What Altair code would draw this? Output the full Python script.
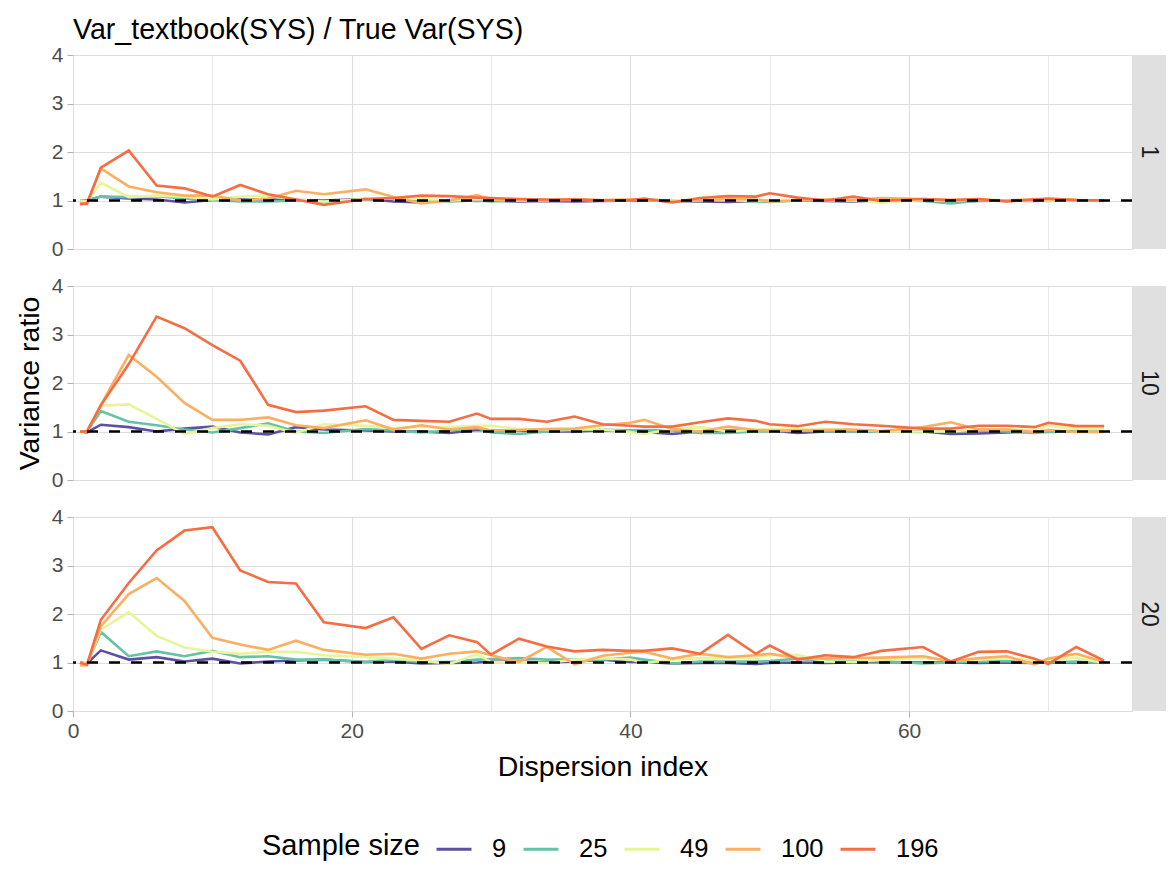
import altair as alt
import pandas as pd

FONT = "Liberation Sans"

X = [0.5, 1, 2, 4, 6, 8, 10, 12, 14, 16, 18, 21, 23, 25, 27, 29, 30, 32, 34, 36,
     38, 40, 41, 43, 45, 47, 49, 50, 52, 54, 56, 58, 61, 63, 65, 67, 69, 70, 72, 74]

SIZES = ["9", "25", "49", "100", "196"]
COLORS = ["#5E4FA2", "#66C2A5", "#E6F598", "#FDAE61", "#F46D43"]
FACETS = ["1", "10", "20"]

# facet "1"
F1_9 = [1.00, 1.00, 1.08, 1.04, 1.02, 0.96, 1.01, 1.02, 1.02, 1.01, 1.00, 1.03, 0.98, 0.96, 1.01, 0.99, 1.00,
        0.98, 0.99, 0.98, 0.99, 1.00, 1.00, 0.99, 0.98, 0.97, 0.99, 1.00, 1.00, 0.99, 0.98, 1.00,
        1.00, 0.98, 0.99, 1.00, 0.99, 1.00, 1.00, 1.00]
F1_25 = [1.00, 1.00, 1.08, 1.07, 1.09, 1.04, 1.01, 0.98, 0.98, 1.00, 0.98, 1.02, 1.04, 1.00, 0.98, 1.00, 0.98,
         1.00, 1.00, 1.01, 1.00, 1.00, 1.02, 1.00, 0.99, 1.00, 0.98, 0.97, 1.00, 1.00, 0.99, 1.00,
         0.99, 0.94, 1.00, 0.99, 1.00, 0.99, 1.00, 0.99]
F1_49 = [1.00, 0.98, 1.37, 1.07, 1.10, 1.08, 1.02, 1.08, 1.10, 1.02, 0.98, 1.03, 1.05, 1.03, 1.00, 1.03, 1.02,
         1.00, 1.01, 1.02, 1.00, 1.03, 1.01, 1.00, 1.02, 1.01, 0.99, 1.00, 1.02, 1.01, 1.00, 0.96,
         1.01, 1.00, 1.02, 1.00, 1.01, 1.00, 1.01, 1.00]
F1_100 = [0.93, 0.95, 1.66, 1.29, 1.17, 1.10, 1.10, 1.00, 1.04, 1.20, 1.13, 1.23, 1.07, 0.94, 1.00, 1.11, 1.02,
          1.01, 1.00, 1.03, 1.01, 1.02, 1.01, 0.98, 1.00, 1.03, 1.02, 0.98, 1.00, 1.02, 1.01, 1.05,
          1.03, 1.01, 1.02, 1.00, 1.03, 1.02, 1.01, 1.00]
F1_196 = [0.93, 0.93, 1.68, 2.03, 1.31, 1.25, 1.08, 1.32, 1.13, 1.02, 0.91, 1.03, 1.05, 1.10, 1.09, 1.06, 1.05,
          1.03, 1.02, 1.02, 1.00, 1.01, 1.04, 0.96, 1.05, 1.09, 1.08, 1.15, 1.06, 1.00, 1.08, 0.99,
          1.03, 1.01, 1.03, 0.98, 1.02, 1.04, 1.01, 1.00]

# facet "10"
F10_9 = [1.00, 0.98, 1.14, 1.09, 1.00, 1.06, 1.10, 0.98, 0.94, 1.09, 1.04, 1.02, 1.00, 1.00, 0.97, 1.03, 1.02,
         1.02, 1.00, 1.00, 1.02, 1.02, 0.99, 0.95, 1.00, 1.02, 1.02, 1.02, 0.97, 1.00, 1.01, 1.00,
         1.00, 0.95, 0.96, 0.98, 1.00, 1.00, 1.01, 1.00]
F10_25 = [1.00, 1.00, 1.42, 1.20, 1.13, 1.04, 0.98, 1.07, 1.17, 1.00, 0.97, 1.05, 1.02, 0.98, 1.02, 1.07, 0.98,
          0.95, 1.00, 1.03, 1.04, 1.02, 1.03, 1.02, 0.97, 0.97, 1.00, 1.00, 1.02, 1.00, 1.00, 1.00,
          0.99, 1.00, 1.02, 1.00, 0.97, 0.99, 1.00, 1.00]
F10_49 = [1.00, 1.00, 1.53, 1.56, 1.26, 0.95, 1.07, 1.15, 1.12, 0.97, 1.15, 1.12, 1.07, 1.10, 1.09, 1.12, 1.12,
          1.05, 1.04, 1.05, 1.04, 0.99, 0.95, 1.05, 1.09, 1.00, 1.04, 1.05, 1.05, 1.05, 1.04, 1.00,
          1.00, 1.00, 1.05, 1.05, 1.02, 1.12, 1.05, 1.05]
F10_100 = [1.00, 1.00, 1.55, 2.58, 2.13, 1.59, 1.24, 1.24, 1.29, 1.13, 1.07, 1.23, 1.04, 1.13, 1.04, 1.09, 1.02,
           1.03, 1.05, 1.06, 1.13, 1.18, 1.24, 1.05, 1.00, 1.10, 1.03, 1.02, 1.02, 1.03, 1.04, 1.01,
           1.09, 1.19, 1.04, 1.04, 0.99, 1.03, 0.99, 0.99]
F10_196 = [1.00, 1.00, 1.54, 2.39, 3.37, 3.13, 2.78, 2.46, 1.55, 1.40, 1.43, 1.52, 1.24, 1.22, 1.20, 1.37, 1.26,
           1.26, 1.20, 1.31, 1.15, 1.12, 1.10, 1.10, 1.19, 1.27, 1.22, 1.15, 1.11, 1.20, 1.15, 1.12,
           1.06, 1.06, 1.12, 1.12, 1.09, 1.18, 1.11, 1.11]

# facet "20"
F20_9 = [1.00, 0.98, 1.25, 1.06, 1.11, 1.02, 1.08, 0.98, 1.02, 1.04, 1.06, 1.01, 1.02, 0.98, 0.99, 1.00, 1.02,
         1.02, 1.00, 1.02, 1.06, 1.01, 1.01, 0.98, 0.99, 0.99, 0.97, 0.99, 1.00, 0.99, 1.00, 1.01,
         1.00, 1.00, 0.99, 1.00, 0.99, 1.00, 1.00, 1.00]
F20_25 = [1.00, 0.97, 1.63, 1.13, 1.23, 1.13, 1.24, 1.11, 1.13, 1.06, 1.06, 1.01, 1.06, 1.01, 1.01, 1.06, 1.07,
          1.09, 1.06, 1.06, 1.06, 1.10, 1.06, 0.98, 1.02, 1.02, 1.02, 1.03, 1.08, 1.02, 1.02, 1.03,
          0.98, 1.00, 1.02, 1.03, 0.99, 1.00, 1.02, 0.99]
F20_49 = [1.00, 0.97, 1.68, 2.04, 1.55, 1.31, 1.22, 1.18, 1.22, 1.22, 1.15, 1.11, 1.08, 1.04, 0.97, 1.17, 1.01,
          1.01, 0.99, 1.06, 1.09, 1.06, 0.99, 1.06, 1.09, 1.09, 1.09, 1.15, 1.16, 1.02, 1.01, 1.06,
          1.09, 1.04, 1.06, 1.09, 1.04, 1.06, 1.10, 0.99]
F20_100 = [0.94, 0.95, 1.75, 2.41, 2.74, 2.27, 1.51, 1.37, 1.26, 1.45, 1.26, 1.16, 1.18, 1.08, 1.18, 1.23, 1.15,
           1.01, 1.32, 0.96, 1.14, 1.20, 1.22, 1.08, 1.18, 1.11, 1.15, 1.18, 1.09, 1.08, 1.09, 1.10,
           1.13, 1.02, 1.09, 1.13, 0.96, 1.08, 1.18, 1.01]
F20_196 = [1.00, 0.95, 1.88, 2.64, 3.31, 3.72, 3.79, 2.90, 2.66, 2.63, 1.83, 1.71, 1.93, 1.28, 1.56, 1.42, 1.16,
           1.49, 1.33, 1.23, 1.26, 1.24, 1.24, 1.29, 1.18, 1.57, 1.18, 1.35, 1.06, 1.15, 1.11, 1.24,
           1.32, 1.02, 1.22, 1.23, 1.08, 0.97, 1.32, 1.04]

SERIES = {
    "1": [F1_9, F1_25, F1_49, F1_100, F1_196],
    "10": [F10_9, F10_25, F10_49, F10_100, F10_196],
    "20": [F20_9, F20_25, F20_49, F20_100, F20_196],
}

rows = []
for f in FACETS:
    for k, s in enumerate(SIZES):
        for x, v in zip(X, SERIES[f][k]):
            rows.append({"facet": f, "size": s, "k": k, "x": x, "ratio": v})
df = pd.DataFrame(rows)

W, H = 1059, 194
STRIP = 34
GRID = "#dedede"

YV = [i * 0.5 for i in range(9)]
XV = [i * 10 for i in range(8)]


def y_axis(show_title):
    return alt.Axis(
        values=YV,
        labelExpr="datum.value % 1 == 0 ? format(datum.value, 'd') : ''",
        labelOverlap=False,
        tickOpacity={"condition": {"test": "datum.value % 1 != 0", "value": 0}, "value": 1},
        gridWidth={"condition": {"test": "datum.value % 1 != 0", "value": 0.6}, "value": 1.1},
        gridColor=GRID, tickColor="#b3b3b3", tickSize=6, tickWidth=1.1,
        labelPadding=4, labelFontSize=21, labelColor="#4d4d4d", labelFont=FONT,
        domain=False, title="Variance ratio", titleFontSize=28.5, titleFont=FONT,
        titleFontWeight="normal", titleColor="#000000", titlePadding=7,
        titleOpacity=1 if show_title else 0,
    )


def x_axis(bottom):
    if bottom:
        return alt.Axis(
            values=XV,
            labelExpr="datum.value % 20 == 0 ? format(datum.value, 'd') : ''",
            labelOverlap=False, labelFlush=False,
            tickOpacity={"condition": {"test": "datum.value % 20 != 0", "value": 0}, "value": 1},
            gridWidth={"condition": {"test": "datum.value % 20 != 0", "value": 0.6}, "value": 1.1},
            gridColor=GRID, tickColor="#b3b3b3", tickSize=6, tickWidth=1.1,
            labelPadding=3, labelFontSize=21, labelColor="#4d4d4d", labelFont=FONT,
            domain=False, title="Dispersion index", titleFontSize=28.5, titleFont=FONT,
            titleFontWeight="normal", titleColor="#000000", titlePadding=11.5,
        )
    return alt.Axis(
        values=XV, labels=False, ticks=False, domain=False, title=None,
        gridColor=GRID,
        gridWidth={"condition": {"test": "datum.value % 20 != 0", "value": 0.6}, "value": 1.1},
    )


def panel(f, idx):
    d = df[df.facet == f]
    lines = alt.Chart(d).mark_line(strokeWidth=2.6).encode(
        x=alt.X("x:Q", scale=alt.Scale(domain=[0, 76], nice=False, zero=False), axis=x_axis(idx == 2)),
        y=alt.Y("ratio:Q", scale=alt.Scale(domain=[0, 4], nice=False), axis=y_axis(idx == 1)),
        color=alt.Color(
            "size:N",
            scale=alt.Scale(domain=SIZES, range=COLORS),
            sort=SIZES,
            legend=alt.Legend(
                title="Sample size", orient="none", direction="horizontal",
                legendX=189, legendY=775, padding=0,
                titleOrient="left", titleFontSize=29, titleFont=FONT, titleFontWeight="normal",
                titleColor="#000000", titlePadding=15, titleBaseline="middle",
                labelFontSize=25.5, labelFont=FONT, labelColor="#000000", labelOffset=19,
                symbolType="stroke", symbolSize=1225, symbolStrokeWidth=3,
                columnPadding=10,
            ),
        ),
        detail="k:O",
    )
    ref = alt.Chart(pd.DataFrame({"ref": [1.0]})).mark_rule(
        color="black", strokeDash=[11, 11], strokeWidth=2.4
    ).encode(y="ref:Q")
    lab = pd.DataFrame({"label": [f]})
    strip = alt.Chart(lab).mark_rect(color="#e0e0e0").encode(
        x=alt.value(W + 1), x2=alt.value(W + STRIP), y=alt.value(0), y2=alt.value(H)
    )
    txt = alt.Chart(lab).mark_text(
        angle=90, fontSize=23, font=FONT, color="#1a1a1a", align="center", baseline="middle"
    ).encode(
        x=alt.value(W + 17), y=alt.value(H / 2), text="label:N"
    )
    layer = alt.layer(lines, ref, strip, txt).properties(width=W, height=H)
    if idx == 0:
        layer = layer.properties(
            title=alt.Title(
                "Var_textbook(SYS) / True Var(SYS)", anchor="start", frame="group",
                fontSize=28.6, font=FONT, fontWeight="normal", color="#000000", offset=-1,
            )
        )
    return layer


chart = alt.vconcat(*[panel(f, i) for i, f in enumerate(FACETS)], spacing=14).properties(
    padding={"left": 6, "top": 7, "right": 0, "bottom": 0}
).configure_view(stroke="#b3b3b3", strokeWidth=1.3).configure(background="white")

chart.save("out.html", embed_options={"renderer": "svg", "actions": False})
